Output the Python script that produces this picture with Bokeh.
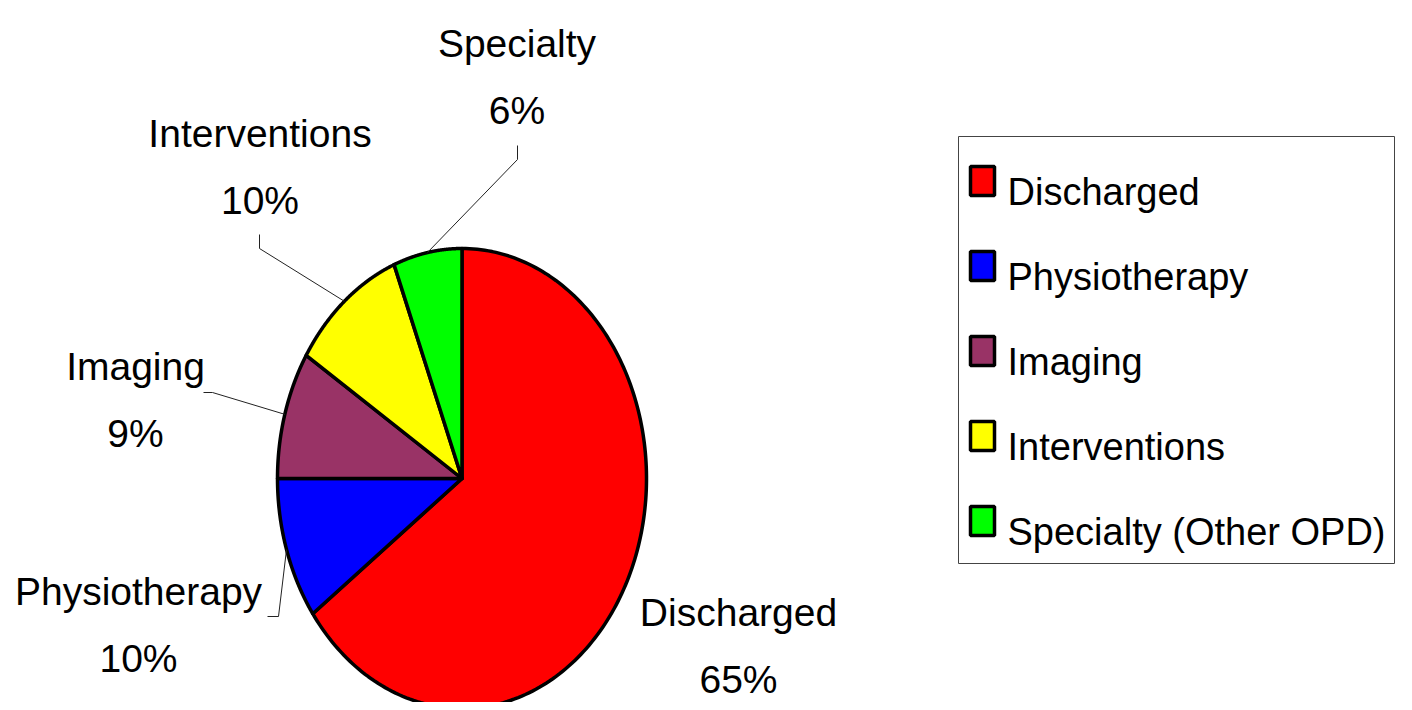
import numpy as np
from bokeh.plotting import figure
from bokeh.models import Range1d
from bokeh.core.properties import value
from bokeh.embed import file_html
from bokeh.resources import INLINE

# ---- data ----
categories = ["Discharged", "Physiotherapy", "Imaging", "Interventions", "Specialty (Other OPD)"]
short_names = ["Discharged", "Physiotherapy", "Imaging", "Interventions", "Specialty"]
values = [65, 10, 9, 10, 6]
colors = ["#FF0000", "#0000FF", "#993366", "#FFFF00", "#00FF00"]

# ---- layout (pixel-like coordinates, y grows downward) ----
W, H = 1396, 702
CX, CY, RX, RY = 461.5, 478.0, 184.5, 230.0
FONT = value("Liberation Sans")
FS = "39px"
LEG_FS = "38px"

# label anchors: (center x, baseline of first line)
label_pos = [(738, 612), (138, 591), (135, 366), (259.5, 133), (516.5, 43)]
line_gap = 67
# leader lines: (start point, elbow) or None
leader = [None, ((267, 616), (278, 616)), ((203, 392), (212, 392)),
          ((259, 234), (259, 248)), ((517, 145), (517, 159))]

p = figure(width=W, height=H, output_backend="svg", toolbar_location=None,
           x_range=Range1d(0, W), y_range=Range1d(H, 0),
           min_border=0, x_axis_location=None, y_axis_location=None)
p.grid.visible = False
p.outline_line_color = None
p.background_fill_color = "white"

total = float(sum(values))
fr = np.cumsum([0] + values) / total * 2 * np.pi
xs, ys, mids = [], [], []
for i in range(len(values)):
    t = np.linspace(fr[i], fr[i + 1], 200)
    xs.append([CX] + list(CX + RX * np.sin(t)) + [CX])
    ys.append([CY] + list(CY - RY * np.cos(t)) + [CY])
    mids.append((fr[i] + fr[i + 1]) / 2)

p.patches(xs, ys, fill_color=colors, line_color="black", line_width=3.5, line_join="round")

# leader lines
for i, ld in enumerate(leader):
    if ld is None:
        continue
    m = mids[i]
    ex, ey = CX + RX * np.sin(m), CY - RY * np.cos(m)
    p.line([ld[0][0], ld[1][0], ex], [ld[0][1], ld[1][1], ey], line_color="#222222", line_width=1)

# pie labels
for i in range(len(values)):
    x, y = label_pos[i]
    p.text(x=[x, x], y=[y, y + line_gap], text=[short_names[i], f"{values[i]}%"],
           text_font=FONT, text_font_size=FS, text_align="center",
           text_baseline="alphabetic", text_color="black")

# legend
p.quad(left=[958], right=[1394], top=[136], bottom=[563], fill_color="white",
       line_color="#444444", line_width=1)
leg_y = [191 + 85 * k for k in range(len(categories))]
p.rect(x=[982] * len(categories), y=[y - 10.5 for y in leg_y], width=24, height=29,
       fill_color=colors, line_color="black", line_width=3.5)
p.text(x=[1007] * len(categories), y=leg_y, text=categories, text_font=FONT,
       text_font_size=LEG_FS, text_align="left", text_baseline="alphabetic", text_color="black")

open("out.html", "w").write(file_html(p, INLINE))
